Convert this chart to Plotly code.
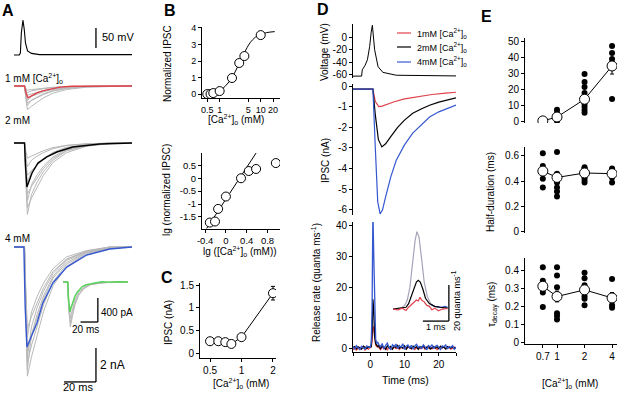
import plotly.graph_objects as go

W, H = 617, 393
def px(x): return x / W
def py(y): return 1 - y / H

FONT = "Liberation Sans, Arial, sans-serif"
RED = "#e0404a"
BLUE = "#3558d0"
GREEN = "#5ad25a"
GRAY = "#b8b8b8"

# ---------------- data ----------------
# Panel A (time in ms, current in nA, voltage in mV)
a_v_t = [0, 3.3, 4.0, 4.6, 5.6, 6.4, 7.2, 8.5, 11, 16, 74]
a_v_y = [-65, -65, -60, -10, 22, 0, -35, -55, -61, -64, -64]

a1_t = [0, 6.6, 7.6, 8.8, 11, 14.4, 18, 22.5, 28.8, 36, 50, 74]
a1_y = [0, 0, -0.45, -0.7, -0.58, -0.41, -0.29, -0.18, -0.07, -0.02, 0, 0]
a2_t = [0, 6.6, 7.3, 8.1, 11.3, 15, 20.6, 26.9, 36.9, 53.8, 74]
a2_y = [0, 0, -1.5, -2.59, -1.76, -1.18, -0.82, -0.53, -0.24, -0.06, 0]
a4_t = [0, 6.2, 7.0, 8.1, 14.4, 18.1, 24.4, 33.1, 45.6, 60, 74]
a4_y = [0, 0, -3.5, -5.88, -4.47, -3.29, -2.12, -1.18, -0.47, -0.12, 0]

gray_t = [0, 6.6, 7.4, 8.4, 11, 14.5, 18.5, 24.5, 33, 45.5, 60, 74]
gray_fast = [0, 0, -0.55, -1, -0.72, -0.55, -0.4, -0.24, -0.11, -0.04, 0, 0]
gray_slow = [0, 0, -0.5, -1, -0.85, -0.68, -0.5, -0.3, -0.15, -0.05, -0.01, 0]
g1_amp = [0.25, 0.4, 0.55, 0.85, 1.0, 1.15, 1.4]
g2_amp = [0.9, 1.4, 1.9, 2.3, 3.0, 3.4, 3.8, 4.2]
g4_amp = [4.8, 5.3, 6.1, 6.5, 6.8, 7.2, 7.6]

inset_t = [0, 5.5, 6.5, 8.5, 11, 14, 18, 24, 32, 45, 60, 75]
inset_gray = [0, 0, -0.6, -1, -0.75, -0.5, -0.3, -0.15, -0.06, -0.02, 0, 0]
inset_amp = [0.6, 0.68, 0.75]
green_t = [0, 5.5, 6.2, 7, 8, 9, 10.5, 12, 14, 16.5, 19, 22, 26, 31, 37, 45, 55, 65, 75]
green_y = [0.0, 0.0, -0.25, -0.45, -0.5, -0.44, -0.37, -0.3, -0.23, -0.17, -0.12,
           -0.08, -0.05, -0.03, -0.015, 0.005, -0.005, 0.005, 0.0]

# Panel B
b_conc = [0.5, 0.6, 0.7, 1, 2, 3, 4, 10]
b_norm = [0.0, 0.0, 0.06, 0.18, 0.97, 1.88, 2.3, 3.57]
b_norm_err = [0, 0, 0, 0, 0, 0, 0, 0.2]
b_fit_x = [0.5, 0.7, 1, 1.4, 2, 2.8, 4, 5.5, 7.5, 10, 14, 22]
b_fit_y = [0.03, 0.08, 0.2, 0.5, 1.0, 1.7, 2.5, 3.1, 3.45, 3.6, 3.72, 3.78]
b_lgc = [-0.31, -0.21, -0.15, 0.0, 0.29, 0.44, 0.58, 0.96]
b_lgn = [-1.72, -1.68, -1.19, -0.71, 0.0, 0.28, 0.36, 0.59]
b_line_x = [-0.37, 0.58]
b_line_y = [-1.95, 0.98]

# Panel C
c_conc = [0.5, 0.6, 0.7, 0.8, 1, 2]
c_ipsc = [0.26, 0.26, 0.24, 0.2, 0.35, 1.32]
c_err = [0, 0, 0, 0, 0, 0.15]

# Panel D
d_v_t = [-5, -2.5, -2.3, -1.5, -0.8, -0.15, 0.3, 0.64, 1.3, 2.3, 3.7, 7.6, 25]
d_v_y = [-62, -62, -52, -45, -36, -15, 8, 19, -20, -47, -56, -60.6, -61.7]

d_red_t = [-5, 0.8, 1.5, 2.5, 3.5, 5, 7, 10, 14, 18, 22, 25]
d_red_y = [-0.15, -0.15, -0.75, -1.0, -0.97, -0.88, -0.76, -0.62, -0.5, -0.41, -0.34, -0.3]
d_blk_t = [-5, 0.8, 1.5, 2.4, 3.4, 4.5, 6, 8, 10, 12.4, 15, 17.3, 20, 25]
d_blk_y = [-0.15, -0.15, -1.4, -2.6, -2.95, -2.8, -2.45, -2.0, -1.65, -1.32, -1.1, -0.93, -0.78, -0.57]
d_blu_t = [-5, 0.8, 1.5, 2.2, 2.9, 3.6, 4.3, 5, 6, 7.6, 10, 12.4, 15, 17.3, 20, 25]
d_blu_y = [-0.15, -0.15, -3.0, -5.6, -6.2, -6.0, -5.5, -5.0, -4.4, -3.6, -2.85, -2.28, -1.85, -1.5, -1.25, -0.92]

rr_pre_t = [-5, -4.5, -4, -3.5, -3, -2.5, -2, -1.5, -1, -0.5, 0]
rr_pk_t = [0.3, 0.55, 0.8, 1.05, 1.3, 1.6, 1.9, 2.2]
rr_blue_pre = [0.5, -0.3, 0.8, 0.2, -0.5, 0.6, 0.1, -0.4, 0.7, 0.3, 0.2]
rr_blue_pk = [1.5, 12, 45, 30, 10, 3, 1.5, 2]
rr_blue_post = [1.2, 0.4, 1.5, -0.3, 0.9, 1.6, 0.2, -0.6, 1.1, 0.5, 1.3, -0.2, 0.8, 0.3, 1.4, -0.5,
                0.6, 1.0, 0.1, 0.9, -0.4, 0.7, 1.2, 0.2, 0.5, -0.3, 1.0, 0.4, -0.6, 0.8, 0.3, 1.1,
                -0.2, 0.6, 0.9, 0.0, -0.5, 0.7, 0.4, 1.0, -0.3, 0.5, 0.2, 0.8, -0.4, 0.3]
rr_blk_pre = [0.2, 0.5, -0.2, 0.4, 0.1, -0.3, 0.6, 0.2, -0.1, 0.4, 0.3]
rr_blk_pk = [0.5, 5, 16, 12, 4, 1.5, 1, 0.5]
rr_blk_post = [0.8, -0.2, 0.6, 0.3, -0.4, 0.7, 0.1, 0.5, -0.3, 0.6, 0.2, 0.9, -0.1, 0.4, 0.0, 0.7,
               -0.3, 0.5, 0.2, -0.2, 0.6, 0.1, 0.4, -0.4, 0.5, 0.2, 0.8, -0.1, 0.3, 0.6, -0.3, 0.2,
               0.5, 0.0, 0.4, -0.2, 0.6, 0.1, 0.3, -0.3, 0.5, 0.2, 0.0, 0.4, -0.1, 0.2]
rr_red_pre = [-0.6, 0.3, -0.8, 0.1, -0.5, -0.2, 0.4, -0.7, 0.0, -0.4, 0.2]
rr_red_pk = [0.3, 2, 6.5, 7, 3, 1, 0.5, 0.3]
rr_red_post = [0.2, -0.5, 0.4, -0.3, 0.1, -0.6, 0.3, 0.0, -0.4, 0.5, -0.2, 0.1, -0.5, 0.3, -0.1, 0.2,
               -0.4, 0.4, 0.0, -0.3, 0.2, -0.5, 0.1, 0.3, -0.2, 0.0, 0.4, -0.4, 0.1, -0.1, 0.3, -0.3,
               0.2, 0.0, -0.5, 0.3, -0.2, 0.1, 0.4, -0.3, 0.0, 0.2, -0.4, 0.1, 0.3, -0.1]

in_gray_t = [0, 0.3, 0.45, 0.55, 0.65, 0.75, 0.85, 0.92, 1.0, 1.1, 1.2, 1.32, 1.45, 1.6, 1.8, 2.0, 2.1]
in_gray_y = [0, 0.5, 2, 5, 12, 25, 38, 43, 40, 28, 15, 7, 3, 1.5, 1, 1.5, 0.5]
in_blue_t = [1.45, 1.6, 1.75, 1.9, 2.0, 2.1]
in_blue_y = [2.5, 1.5, 1.2, 0.8, 1.5, 1.0]
in_blk_t = [0, 0.3, 0.5, 0.6, 0.7, 0.8, 0.9, 0.97, 1.05, 1.15, 1.25, 1.4, 1.6, 1.8, 2.0, 2.1]
in_blk_y = [0, 0.5, 1, 3, 7, 12, 15, 16, 15, 11, 6, 3, 1.5, 1, 0.8, 0.5]
in_red_t = [0, 0.2, 0.35, 0.5, 0.6, 0.7, 0.8, 0.9, 0.97, 1.04, 1.1, 1.2, 1.3, 1.4, 1.5, 1.6, 1.75, 1.9, 2.1]
in_red_y = [0, -0.5, 0.5, -0.8, 1, 2.5, 4, 5, 4.5, 6.5, 5, 4, 2, 1.5, -0.5, 0.5, -1, 0, 0.3]

# Panel E
e_conc = [0.7, 1, 2, 4]
e_amp_mean = [0.6, 3.0, 14.0, 34.6]
e_amp_err = [0.3, 1.0, 2.5, 5.0]
e_amp_pts = {0.7: [0.8, 0.4], 1: [7.5, 5.5, 4.3, 3.0, 1.9, 0.6],
             2: [29.6, 24.7, 21.6, 17.9, 15.4, 13.6, 11.1, 9.3, 7.4, 5.6],
             4: [47, 42.6, 38.9, 36.4, 14.2]}
e_hd_mean = [0.48, 0.43, 0.465, 0.46]
e_hd_err = [0.03, 0.03, 0.02, 0.02]
e_hd_pts = {0.7: [0.62, 0.52, 0.47, 0.42, 0.35], 1: [0.63, 0.46, 0.45, 0.43, 0.39, 0.35, 0.32, 0.28],
            2: [0.51, 0.5, 0.47, 0.45, 0.43, 0.41, 0.39], 4: [0.5, 0.48, 0.46, 0.43, 0.39]}
e_tau_mean = [0.315, 0.258, 0.295, 0.25]
e_tau_err = [0.02, 0.03, 0.02, 0.03]
e_tau_pts = {0.7: [0.42, 0.345, 0.33, 0.28, 0.2], 1: [0.42, 0.375, 0.31, 0.25, 0.165, 0.15, 0.13],
             2: [0.39, 0.36, 0.32, 0.28, 0.26, 0.245, 0.21], 4: [0.355, 0.21, 0.195]}

# ---------------- figure ----------------
fig = go.Figure()
layout = dict(width=W, height=H, margin=dict(l=0, r=0, t=0, b=0, pad=0), paper_bgcolor="white",
              plot_bgcolor="rgba(0,0,0,0)", showlegend=False,
              font=dict(family=FONT, size=10, color="black"))

def add_axes(i, xd, yd, xr, yr, xtype="linear", showx=True, showy=True, xkw=None, ykw=None, tfs=10):
    xk = "xaxis" if i == 1 else f"xaxis{i}"
    yk = "yaxis" if i == 1 else f"yaxis{i}"
    xref = "x" if i == 1 else f"x{i}"
    yref = "y" if i == 1 else f"y{i}"
    base = dict(showgrid=False, zeroline=False, showline=True, linecolor="black", linewidth=1,
                ticks="outside", ticklen=3, tickwidth=1, tickcolor="black",
                tickfont=dict(size=tfs, family=FONT), fixedrange=True, automargin=False)
    xa = dict(base, domain=[px(xd[0]), px(xd[1])], range=xr, type=xtype, anchor=yref, visible=showx)
    ya = dict(base, domain=[py(yd[1]), py(yd[0])], range=yr, anchor=xref, visible=showy)
    if xkw: xa.update(xkw)
    if ykw: ya.update(ykw)
    layout[xk] = xa
    layout[yk] = ya
    return xref, yref

def line(ax, x, y, color="black", width=1, shape="linear"):
    fig.add_trace(go.Scatter(x=x, y=y, mode="lines", xaxis=ax[0], yaxis=ax[1],
                             line=dict(color=color, width=width, shape=shape), hoverinfo="skip"))

def circles(ax, x, y, err=None, size=10, withline=False):
    fig.add_trace(go.Scatter(x=x, y=y, mode="lines+markers" if withline else "markers",
                             xaxis=ax[0], yaxis=ax[1], line=dict(color="black", width=1),
                             marker=dict(size=size, color="white", line=dict(color="black", width=1)),
                             error_y=dict(type="data", array=err, color="black", thickness=1, width=2,
                                          visible=err is not None),
                             hoverinfo="skip"))

def dots(ax, pts):
    xs, ys = [], []
    for c, vals in pts.items():
        xs += [c] * len(vals)
        ys += vals
    fig.add_trace(go.Scatter(x=xs, y=ys, mode="markers", xaxis=ax[0], yaxis=ax[1],
                             marker=dict(size=6, color="black"), hoverinfo="skip"))

shapes = []
def seg(ax, x0, y0, x1, y1, width=1.3):
    shapes.append(dict(type="line", xref=ax[0], yref=ax[1], x0=x0, y0=y0, x1=x1, y1=y1,
                       line=dict(color="black", width=width)))

ann = []
def txt(x, y, s, size=10, xanchor="center", angle=0, bold=False):
    ann.append(dict(x=px(x), y=py(y), xref="paper", yref="paper", showarrow=False,
                    text=f"<b>{s}</b>" if bold else s,
                    xanchor=xanchor, yanchor="middle", textangle=angle,
                    font=dict(size=size, family=FONT, color="black")))

# Panel A
axA_v = add_axes(1, (14, 132), (15, 60), [0, 74], [-77.5, 35], showx=False, showy=False)
axA_1 = add_axes(2, (14, 132), (78, 115), [0, 74], [-1.71, 0.47], showx=False, showy=False)
axA_2 = add_axes(3, (14, 132), (136, 225), [0, 74], [-4.82, 0.41], showx=False, showy=False)
axA_4 = add_axes(4, (14, 132), (240, 385), [0, 74], [-8.12, 0.41], showx=False, showy=False)
axA_in = add_axes(5, (63, 128), (272, 330), [0, 75], [-0.8, 0.167], showx=False, showy=False)

line(axA_v, a_v_t, a_v_y, "black", 1.1)
seg(axA_v, 51.4, -47.5, 51.4, 2.5)

for ax, amps in ((axA_1, g1_amp), (axA_2, g2_amp), (axA_4, g4_amp)):
    for k, a in enumerate(amps):
        tmpl = gray_slow if k % 2 == 0 else gray_fast
        line(ax, gray_t, [a * v for v in tmpl], GRAY, 1)
line(axA_1, a1_t, a1_y, RED, 1.4)
line(axA_2, a2_t, a2_y, "black", 1.4)
line(axA_4, a4_t, a4_y, BLUE, 1.4)
for a in inset_amp:
    line(axA_in, inset_t, [a * v for v in inset_gray], GRAY, 1)
line(axA_in, green_t, green_y, GREEN, 1.6)
# scale bars
seg(axA_4, 51.4, -7.94, 51.4, -5.94)
seg(axA_4, 31.4, -7.94, 51.4, -7.94)
seg(axA_in, 40.2, -0.667, 40.2, -0.267)
seg(axA_in, 20.2, -0.667, 40.2, -0.667)

# Panel B
axB1 = add_axes(6, (202, 280), (27, 98), [-0.43, 1.47], [-0.24, 4.06], xtype="log", tfs=9,
                xkw=dict(tickvals=[0.5, 1, 5, 10, 20], ticktext=["0.5", "1", "5", "10", "20"]),
                ykw=dict(tickvals=[0, 1, 2, 3, 4]))
line(axB1, b_fit_x, b_fit_y, "black", 1, "spline")
circles(axB1, b_conc, b_norm, b_norm_err, 9)

axB2 = add_axes(7, (202, 280), (153, 229), [-0.46, 1.04], [-1.97, 0.98], tfs=9.5,
                xkw=dict(tickvals=[-0.4, 0, 0.4, 0.8], ticktext=["-0.4", "0", "0.4", "0.8"]),
                ykw=dict(tickvals=[-1.5, -1, -0.5, 0, 0.5], ticktext=["-1.5", "-1", "-0.5", "0", "0.5"]))
line(axB2, b_line_x, b_line_y, "black", 1)
circles(axB2, b_lgc, b_lgn, None, 9)

# Panel C
axC = add_axes(8, (200, 276), (283, 358), [-0.397, 0.33], [-0.11, 1.545], xtype="log",
               xkw=dict(tickvals=[0.5, 1, 2], ticktext=["0.5", "1", "2"]),
               ykw=dict(tickvals=[0, 0.5, 1, 1.5], ticktext=["0", "0.5", "1", "1.5"]))
circles(axC, c_conc, c_ipsc, c_err, 9, withline=True)

# Panel D
axDv = add_axes(9, (353, 456), (24, 78), [-5, 25], [-65, 21], showx=False,
                ykw=dict(tickvals=[0, -20, -40, -60], ticktext=["0", "-20", "-40", "-60"]))
line(axDv, d_v_t, d_v_y, "black", 1)
axDi = add_axes(10, (353, 456), (84, 215), [-5, 25], [-6.25, 0.1], showx=False,
                ykw=dict(tickvals=[0, -1, -2, -3, -4, -5, -6],
                         ticktext=["0", "-1", "-2", "-3", "-4", "-5", "-6"]))
line(axDi, d_red_t, d_red_y, RED, 1.2)
line(axDi, d_blk_t, d_blk_y, "black", 1.2)
line(axDi, d_blu_t, d_blu_y, BLUE, 1.2)
axDr = add_axes(11, (353, 456), (222, 352), [-5, 25], [-1.3, 41.3],
                xkw=dict(tickvals=[-5, 0, 5, 10, 15, 20, 25], ticktext=["", "0", "", "10", "", "20", ""]),
                ykw=dict(tickvals=[0, 10, 20, 30, 40]))
for pre, pk, post, col in ((rr_red_pre, rr_red_pk, rr_red_post, RED),
                           (rr_blk_pre, rr_blk_pk, rr_blk_post, "black"),
                           (rr_blue_pre, rr_blue_pk, rr_blue_post, BLUE)):
    t = rr_pre_t + rr_pk_t + [2.5 + 0.5 * k for k in range(len(post))]
    line(axDr, t, pre + pk + post, col, 1.3)
axDin = add_axes(12, (393, 452), (228, 322), [0, 2.27], [-7.2, 45], showx=False, showy=False)
line(axDin, in_gray_t, in_gray_y, "#a4a4b8", 1.2)
line(axDin, in_blue_t, in_blue_y, BLUE, 1.2)
line(axDin, in_blk_t, in_blk_y, "black", 1.2)
line(axDin, in_red_t, in_red_y, RED, 1.2)
seg(axDin, 2.15, -6.7, 2.15, 13.3)
seg(axDin, 1.15, -6.7, 2.15, -6.7)

# Panel E
ex = dict(tickvals=[0.7, 1, 2, 4], ticktext=["0.7", "1", "2", "4"])
axE1 = add_axes(13, (525, 617), (38, 123), [-0.35, 0.656], [-0.7, 51.9], xtype="log", showx=False,
                ykw=dict(tickvals=[0, 10, 20, 30, 40, 50]))
dots(axE1, e_amp_pts)
circles(axE1, e_conc, e_amp_mean, e_amp_err, 10, withline=True)
axE2 = add_axes(14, (525, 617), (147, 233), [-0.35, 0.656], [-0.008, 0.67], xtype="log", showx=False,
                ykw=dict(tickvals=[0, 0.2, 0.4, 0.6], ticktext=["0", "0.2", "0.4", "0.6"]))
dots(axE2, e_hd_pts)
circles(axE2, e_conc, e_hd_mean, e_hd_err, 10, withline=True)
axE3 = add_axes(15, (525, 617), (258, 344), [-0.35, 0.656], [-0.006, 0.472], xtype="log", xkw=ex,
                ykw=dict(tickvals=[0, 0.1, 0.2, 0.3, 0.4], ticktext=["0", "0.1", "0.2", "0.3", "0.4"]))
dots(axE3, e_tau_pts)
circles(axE3, e_conc, e_tau_mean, e_tau_err, 10, withline=True)

# legend of D (drawn)
for yy, col in ((33, RED), (47, "black"), (62, BLUE)):
    shapes.append(dict(type="line", xref="paper", yref="paper", x0=px(397), x1=px(411),
                       y0=py(yy), y1=py(yy), line=dict(color=col, width=1.2)))
CA = "[Ca<sup>2+</sup>]<sub>o</sub>"
txt(415, 33, "1mM " + CA, 9, "left")
txt(415, 47, "2mM " + CA, 9, "left")
txt(415, 62, "4mM " + CA, 9, "left")

# texts
for s, x, y in (("A", 8, 10), ("B", 170, 10), ("C", 167, 277), ("D", 323, 9), ("E", 487, 16)):
    txt(x, y, s, 16, bold=True)
txt(100, 37, "50 mV", 11, "left")
txt(3, 78, "1 mM " + CA, 10, "left")
txt(3, 120, "2 mM", 10, "left")
txt(3, 238, "4 mM", 10, "left")
txt(99, 312, "400 pA", 10, "left")
txt(85, 329, "20 ms", 10)
txt(98, 365, "2 nA", 12, "left")
txt(78, 387, "20 ms", 11)

txt(167, 64, "Normalized IPSC", 10, angle=-90)
txt(236, 119, CA + " (mM)", 10)
txt(166, 190, "lg (normalized IPSC)", 10, angle=-90)
txt(240, 252, "lg (" + CA + " (mM))", 10)
txt(168, 322, "IPSC (nA)", 10, angle=-90)
txt(241, 383, CA + " (mM)", 10)

txt(325, 52, "Voltage (mV)", 10, angle=-90)
txt(325, 161, "IPSC (nA)", 10, angle=-90)
txt(316, 283, "Release rate (quanta ms<sup>-1</sup>)", 10, angle=-90)
txt(405, 380, "Time (ms)", 10.5)
txt(436, 327, "1 ms", 9)
txt(456, 301, "20 quanta ms<sup>-1</sup>", 9, angle=-90)

txt(491, 192, "Half-duration (ms)", 10, angle=-90)
txt(492, 305, "τ<sub>decay</sub> (ms)", 10, angle=-90)
txt(570, 383, CA + " (mM)", 10)

layout["shapes"] = shapes
layout["annotations"] = ann
fig.update_layout(**layout)
fig.write_html("out.html", config={"displayModeBar": False, "staticPlot": True},
               post_script="document.body.style.margin='0';document.body.style.overflow='hidden';")
